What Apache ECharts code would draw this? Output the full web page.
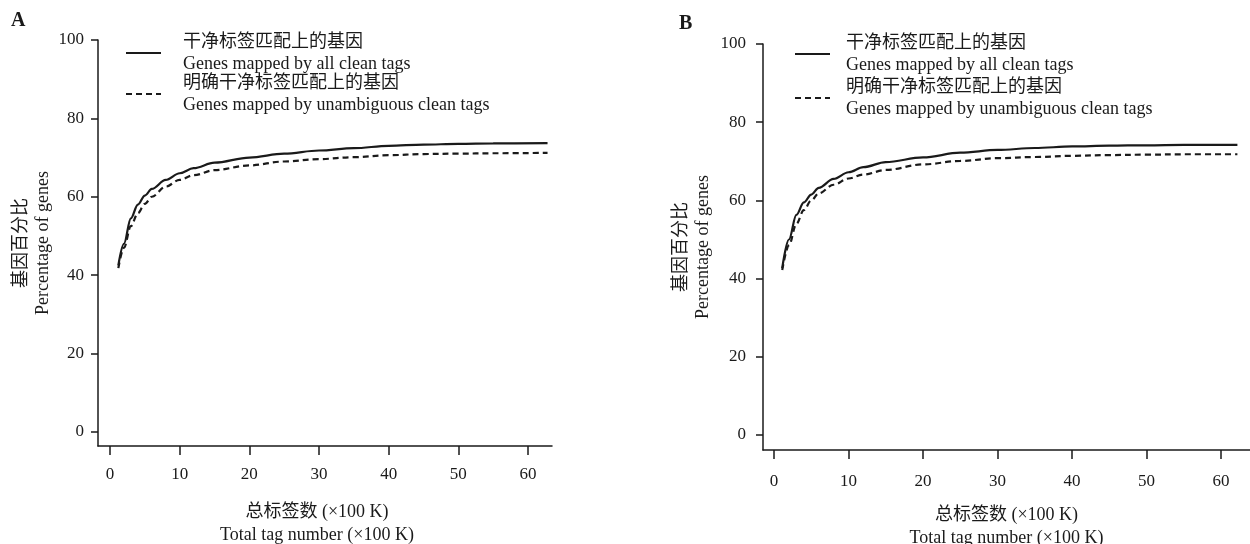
<!DOCTYPE html>
<html>
<head>
<meta charset="utf-8">
<script src="https://cdn.jsdelivr.net/npm/echarts@6/dist/echarts.min.js"></script>
<style>
  html, body { margin: 0; padding: 0; background: #fff; }
  #chart { width: 1250px; height: 544px; }
</style>
</head>
<body>
<div id="chart"></div>
<script>
// x: total tags (x100 K), y: percentage of genes
const tagsA = [1.2, 2, 3, 4, 5, 6, 8, 10, 12, 15, 20, 25, 30, 35, 40, 45, 50, 55, 62.8];
const allCleanA = [42.5, 48, 54.5, 58, 60.3, 62, 64.3, 66, 67.3, 68.7, 70.0, 71.0, 71.8, 72.4, 73.0, 73.3, 73.5, 73.6, 73.7];
const uniqueCleanA = [41.8, 47, 52.5, 55.8, 58.2, 60.0, 62.6, 64.3, 65.5, 66.8, 68.0, 69.0, 69.6, 70.1, 70.6, 70.9, 71.0, 71.1, 71.2];

const tagsB = [1.1, 2, 3, 4, 5, 6, 8, 10, 12, 15, 20, 25, 30, 35, 40, 45, 50, 55, 62.2];
const allCleanB = [42.7, 50, 56.3, 59.5, 61.5, 63.2, 65.5, 67.2, 68.5, 69.8, 71.0, 72.2, 72.9, 73.4, 73.8, 74.0, 74.1, 74.2, 74.2];
const uniqueCleanB = [42.2, 48.5, 54, 57.5, 60, 61.8, 64, 65.6, 66.6, 67.8, 69.2, 70.1, 70.8, 71.1, 71.4, 71.6, 71.7, 71.8, 71.8];

const xTicks = [0, 10, 20, 30, 40, 50, 60];
const yTicks = [0, 20, 40, 60, 80, 100];

const nameAll = "干净标签匹配上的基因\nGenes mapped by all clean tags";
const nameUnique = "明确干净标签匹配上的基因\nGenes mapped by unambiguous clean tags";

const FONT = "'Liberation Serif', 'Noto Sans CJK SC', serif";
const INK = "#1a1a1a";

const pairs = (xs, ys) => xs.map((x, i) => [x, ys[i]]);

const myChart = echarts.init(document.getElementById("chart"), null, { renderer: "canvas" });

const makeX = (gridIndex, min, max, labelMargin, nameGap, namePad) => ({
  type: "value",
  gridIndex,
  min,
  max,
  name: "总标签数 (×100 K)\nTotal tag number (×100 K)",
  nameLocation: "middle",
  nameGap,
  nameTextStyle: { fontFamily: FONT, fontSize: 18, lineHeight: 23, color: INK, padding: namePad },
  splitLine: { show: false },
  axisLine: { show: true, onZero: false, lineStyle: { color: INK, width: 1.5 } },
  axisTick: { show: true, length: 9, customValues: xTicks, lineStyle: { color: INK, width: 1.5 } },
  axisLabel: { margin: labelMargin, customValues: xTicks, fontFamily: FONT, fontSize: 17, color: INK },
});

const makeY = (gridIndex, min, labelMargin, nameGap) => ({
  type: "value",
  gridIndex,
  min,
  max: 100,
  name: "基因百分比\nPercentage of genes",
  nameLocation: "middle",
  nameRotate: 90,
  nameGap,
  nameTextStyle: { fontFamily: FONT, fontSize: 18, lineHeight: 22, color: INK },
  splitLine: { show: false },
  axisLine: { show: true, onZero: false, lineStyle: { color: INK, width: 1.5 } },
  axisTick: { show: true, length: 7, customValues: yTicks, lineStyle: { color: INK, width: 1.5 } },
  axisLabel: { margin: labelMargin, customValues: yTicks, fontFamily: FONT, fontSize: 17, color: INK },
});

const lineSeries = (name, xi, data, dashed) => ({
  type: "line",
  name,
  xAxisIndex: xi,
  yAxisIndex: xi,
  data,
  symbol: "none",
  smooth: 0.35,
  smoothMonotone: "x",
  silent: true,
  lineStyle: { color: INK, width: 2.2, type: dashed ? [6, 4] : "solid" },
  itemStyle: { color: INK },
});

// two-line legend text: chinese on top, english below
const makeLegend = (left, top, textPad, gap) => ({
  data: [nameAll, nameUnique],
  orient: "vertical",
  left,
  top,
  itemWidth: 35,
  itemHeight: 14,
  itemGap: gap,
  selectedMode: false,
  itemStyle: { opacity: 0 },
  textStyle: { fontFamily: FONT, fontSize: 18, lineHeight: 22, color: INK, padding: [0, 0, 0, textPad] },
});

const option = {
  backgroundColor: "#fff",
  animation: false,
  title: [
    { text: "A", left: 6, top: 6, textStyle: { fontFamily: FONT, fontSize: 20, fontWeight: "bold", color: INK } },
    { text: "B", left: 674, top: 9, textStyle: { fontFamily: FONT, fontSize: 20, fontWeight: "bold", color: INK } },
  ],
  legend: [makeLegend(120, 26, 17, -3), makeLegend(789, 27, 11, 0)],
  grid: [
    { left: 98, top: 40, width: 454, height: 406, outerBoundsMode: "none" },
    { left: 763, top: 44, width: 487, height: 406, outerBoundsMode: "none" },
  ],
  xAxis: [
    makeX(0, -1.72, 63.44, 20, 55, [0, 16, 0, 0]),
    makeX(1, -1.48, 63.89, 23, 54, [0, 0, 0, 0]),
  ],
  yAxis: [
    makeY(0, -3.6, 14, 27),
    makeY(1, -3.83, 17, 49),
  ],
  series: [
    lineSeries(nameAll, 0, pairs(tagsA, allCleanA), false),
    lineSeries(nameUnique, 0, pairs(tagsA, uniqueCleanA), true),
    lineSeries(nameAll, 1, pairs(tagsB, allCleanB), false),
    lineSeries(nameUnique, 1, pairs(tagsB, uniqueCleanB), true),
  ],
};

myChart.setOption(option);
</script>
</body>
</html>
